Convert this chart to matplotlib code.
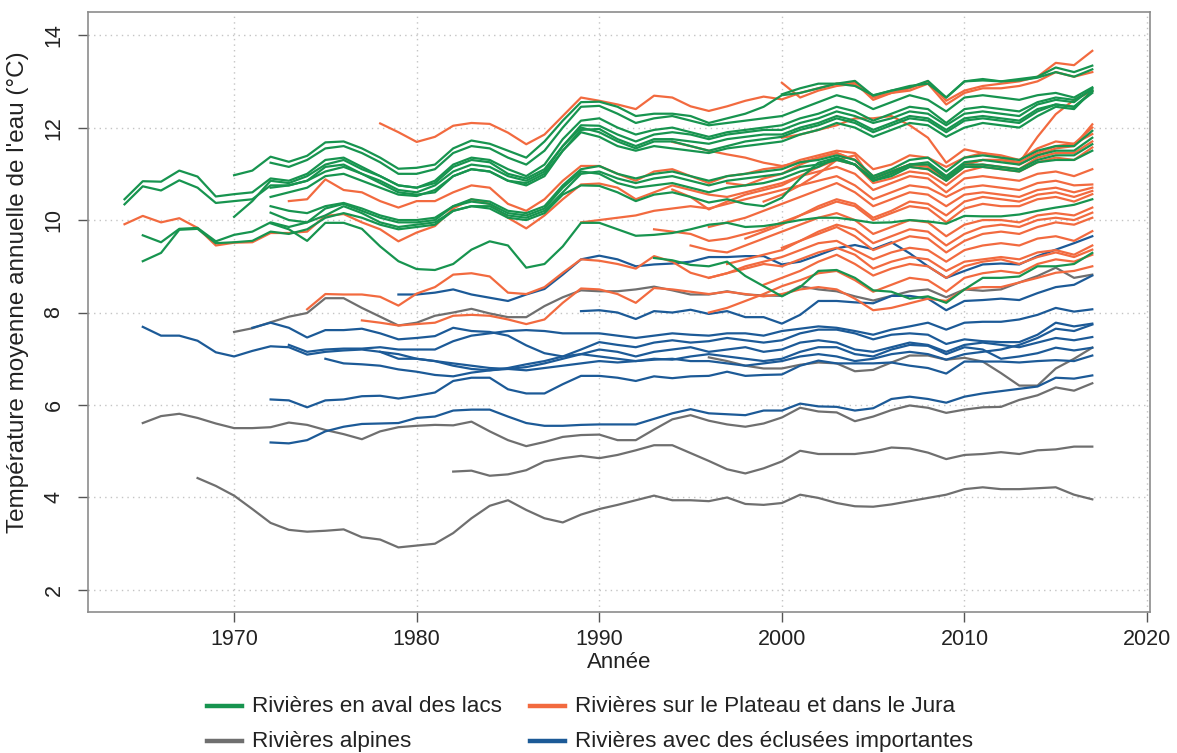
import matplotlib
matplotlib.use("Agg")
import matplotlib.pyplot as plt
from matplotlib.lines import Line2D

# ---------------- data: (start year, yearly values) ----------------
# Rivières en aval des lacs (green)
green_g1 = (1964, [10.45, 10.84, 10.83, 11.07, 10.94, 10.51, 10.56, 10.60, 10.90, 10.85,
                   11.00, 11.30, 11.35, 11.15, 10.95, 10.75, 10.70, 10.80, 11.15, 11.30,
                   11.25, 11.00, 10.90, 11.10, 11.60, 12.05, 12.04, 11.85, 11.70, 11.85,
                   11.90, 11.85, 11.75, 11.85, 11.90, 11.95, 11.95, 12.10, 12.20, 12.35,
                   12.25, 12.10, 12.20, 12.35, 12.30, 12.05, 12.30, 12.35, 12.30, 12.25,
                   12.50, 12.60, 12.55, 12.85])
green_g2 = (1964, [10.34, 10.73, 10.64, 10.86, 10.70, 10.37, 10.41, 10.45, 10.75, 10.75,
                   10.85, 11.15, 11.20, 11.00, 10.80, 10.60, 10.55, 10.60, 10.95, 11.10,
                   11.05, 10.85, 10.75, 10.95, 11.50, 11.95, 11.97, 11.75, 11.60, 11.75,
                   11.75, 11.70, 11.65, 11.75, 11.80, 11.85, 11.85, 12.00, 12.10, 12.25,
                   12.15, 11.95, 12.10, 12.25, 12.20, 11.95, 12.20, 12.25, 12.20, 12.15,
                   12.40, 12.50, 12.45, 12.75])
green_g3 = (1970, [10.97, 11.07, 11.37, 11.26, 11.39, 11.68, 11.70, 11.55, 11.35, 11.11,
                   11.13, 11.20, 11.55, 11.72, 11.65, 11.50, 11.35, 11.70, 12.15, 12.55,
                   12.56, 12.45, 12.25, 12.30, 12.30, 12.25, 12.10, 12.20, 12.30, 12.45,
                   12.70, 12.75, 12.85, 12.95, 12.90, 12.70, 12.80, 12.90, 12.95, 12.65,
                   13.00, 13.05, 13.00, 13.05, 13.10, 13.30, 13.20, 13.34])
green_g4 = (1972, [11.24, 11.15, 11.30, 11.55, 11.60, 11.45, 11.25, 11.00, 11.00, 11.10,
                   11.45, 11.60, 11.55, 11.35, 11.20, 11.50, 12.00, 12.45, 12.47, 12.30,
                   12.10, 12.20, 12.25, 12.15, 12.05, 12.10, 12.15, 12.20, 12.25, 12.40,
                   12.55, 12.70, 12.60, 12.40, 12.55, 12.70, 12.60, 12.35, 12.65, 12.70,
                   12.65, 12.60, 12.70, 12.75, 12.65, 12.87])
green_g5 = (1970, [10.07, 10.41, 10.85, 10.80, 10.95, 11.20, 11.30, 11.10, 10.95, 10.75,
                   10.70, 10.85, 11.20, 11.35, 11.30, 11.10, 10.95, 11.20, 11.75, 12.15,
                   12.20, 12.00, 11.85, 11.95, 12.00, 11.90, 11.80, 11.90, 11.95, 12.00,
                   12.05, 12.20, 12.30, 12.45, 12.35, 12.15, 12.30, 12.45, 12.40, 12.10,
                   12.40, 12.45, 12.40, 12.35, 12.55, 12.65, 12.60, 12.82])
green_g6 = (1972, [10.70, 10.75, 10.85, 11.05, 11.15, 11.00, 10.85, 10.65, 10.60, 10.75,
                   11.05, 11.20, 11.15, 10.95, 10.85, 11.05, 11.60, 12.00, 11.90, 11.70,
                   11.55, 11.70, 11.70, 11.60, 11.50, 11.60, 11.70, 11.75, 11.80, 11.95,
                   12.05, 12.20, 12.10, 11.90, 12.05, 12.20, 12.15, 11.90, 12.15, 12.20,
                   12.15, 12.10, 12.35, 12.50, 12.45, 12.78])
green_g7 = (1972, [10.50, 10.60, 10.70, 10.95, 11.00, 10.85, 10.70, 10.55, 10.52, 10.65,
                   10.95, 11.10, 11.05, 10.85, 10.80, 11.00, 11.50, 11.90, 11.80, 11.60,
                   11.50, 11.60, 11.55, 11.50, 11.45, 11.55, 11.60, 11.65, 11.70, 11.85,
                   11.95, 12.10, 12.00, 11.80, 11.95, 12.10, 12.05, 11.80, 12.00, 12.10,
                   12.05, 12.00, 12.25, 12.45, 12.40, 12.80])
green_g8 = (2000, [12.72, 12.85, 12.95, 12.95, 13.01, 12.69, 12.80, 12.87, 13.01, 12.65,
                   13.00, 13.02, 13.00, 13.02, 13.08, 13.20, 13.10, 13.26])
green_m1 = (1965, [9.67, 9.52, 9.81, 9.83, 9.54, 9.68, 9.75, 9.95, 9.85, 9.95,
                   10.25, 10.35, 10.20, 10.05, 9.95, 9.95, 10.00, 10.30, 10.45, 10.40,
                   10.20, 10.15, 10.30, 10.75, 11.10, 11.17, 11.00, 10.90, 11.00, 11.05,
                   10.95, 10.85, 10.95, 11.00, 11.05, 11.10, 11.25, 11.30, 11.40, 11.30,
                   10.95, 11.10, 11.30, 11.35, 11.05, 11.35, 11.40, 11.35, 11.30, 11.50,
                   11.60, 11.60, 11.93])
green_m2 = (1965, [9.11, 9.29, 9.79, 9.81, 9.50, 9.52, 9.55, 9.75, 9.70, 9.80,
                   10.05, 10.15, 10.05, 9.90, 9.80, 9.85, 9.90, 10.20, 10.30, 10.30,
                   10.10, 10.05, 10.20, 10.60, 11.00, 11.05, 10.90, 10.80, 10.90, 10.95,
                   10.85, 10.75, 10.85, 10.90, 10.95, 11.00, 11.15, 11.20, 11.30, 11.20,
                   10.90, 11.05, 11.20, 11.25, 10.95, 11.25, 11.30, 11.25, 11.20, 11.40,
                   11.50, 11.50, 11.78])
green_m3 = (1972, [10.30, 10.20, 10.15, 10.30, 10.37, 10.25, 10.10, 10.00, 10.00, 10.05,
                   10.30, 10.40, 10.35, 10.15, 10.10, 10.25, 10.70, 11.05, 11.00, 10.80,
                   10.70, 10.75, 10.80, 10.70, 10.60, 10.70, 10.75, 10.80, 10.90, 11.05,
                   11.15, 11.35, 11.20, 10.85, 11.00, 11.20, 11.20, 10.90, 11.20, 11.20,
                   11.15, 11.10, 11.30, 11.40, 11.40, 11.64])
green_m4 = (1972, [10.16, 10.00, 9.95, 10.10, 10.30, 10.15, 9.95, 9.85, 9.90, 9.95,
                   10.20, 10.30, 10.25, 10.05, 10.00, 10.15, 10.55, 10.75, 10.74, 10.60,
                   10.41, 10.55, 10.60, 10.50, 10.38, 10.45, 10.35, 10.30, 10.48, 10.90,
                   11.24, 11.35, 11.20, 10.85, 10.95, 11.15, 11.10, 10.85, 11.15, 11.15,
                   11.10, 11.05, 11.25, 11.30, 11.30, 11.50])
green_l1 = (1972, [9.93, 9.80, 9.55, 9.94, 9.94, 9.81, 9.43, 9.11, 8.94, 8.92,
                   9.05, 9.36, 9.54, 9.45, 8.97, 9.05, 9.43, 9.94, 9.94, 9.80,
                   9.66, 9.68, 9.72, 9.80, 9.90, 9.94, 9.85, 9.87, 9.93, 10.00,
                   10.05, 10.05, 10.00, 9.94, 9.95, 10.00, 9.97, 9.92, 10.09, 10.08,
                   10.08, 10.12, 10.20, 10.27, 10.33, 10.45])
green_l2 = (1993, [9.18, 9.13, 9.03, 9.00, 9.10, 8.79, 8.57, 8.35, 8.55, 8.90,
                   8.92, 8.75, 8.48, 8.45, 8.30, 8.35, 8.21, 8.50, 8.75, 8.75,
                   8.78, 9.00, 9.00, 9.05, 9.29])

# Rivières sur le Plateau et dans le Jura (orange)
orange_o1 = (1964, [9.91, 10.09, 9.95, 10.04, 9.83, 9.45, 9.51, 9.52, 9.72, 9.72,
                    9.75, 10.09, 10.13, 9.95, 9.80, 9.54, 9.73, 9.87, 10.25, 10.45,
                    10.35, 10.05, 9.82, 10.10, 10.45, 10.77, 10.79, 10.70, 10.45, 10.60,
                    10.75, 10.65, 10.55, 10.50, 10.60, 10.70, 10.80, 10.95, 11.05, 11.15,
                    11.00, 10.65, 10.80, 10.95, 10.90, 10.60, 10.90, 10.95, 10.90, 10.85,
                    11.00, 11.05, 10.95, 11.10])
orange_o2 = (1973, [10.41, 10.45, 10.88, 10.65, 10.60, 10.41, 10.27, 10.41, 10.41, 10.60,
                    10.75, 10.70, 10.35, 10.20, 10.45, 10.85, 11.17, 11.17, 11.00, 10.85,
                    11.05, 11.10, 10.95, 10.80, 10.95, 11.00, 11.10, 11.15, 11.30, 11.40,
                    11.50, 11.45, 11.10, 11.20, 11.40, 11.35, 11.15, 11.35, 11.45, 11.40,
                    11.30, 11.55, 11.70, 11.65, 11.86])
orange_o3 = (1978, [12.09, 11.90, 11.69, 11.80, 12.04, 12.10, 12.08, 11.89, 11.64, 11.85,
                    12.25, 12.65, 12.58, 12.50, 12.40, 12.69, 12.65, 12.46, 12.36, 12.46,
                    12.58, 12.67, 12.61, 12.75, 12.85, 12.95, 12.97, 12.60, 12.75, 12.85,
                    13.00, 12.58, 12.80, 12.90, 12.95, 13.00, 13.10, 13.40, 13.35, 13.66])
orange_o4 = (2000, [12.97, 12.65, 12.80, 12.90, 12.95, 12.65, 12.75, 12.80, 12.95, 12.50,
                    12.75, 12.85, 12.85, 12.90, 13.00, 13.20, 13.10, 13.20])
orange_o5 = (2000, [11.78, 11.85, 11.95, 12.05, 12.20, 12.20, 12.25, 12.05, 11.78, 11.24,
                    11.53, 11.45, 11.35, 11.24, 11.80, 12.29, 12.60, 12.79])
orange_o6 = (1994, [11.69, 11.60, 11.50, 11.42, 11.35, 11.24, 11.17, 11.25, 11.35, 11.45,
                    11.30, 10.95, 11.05, 11.20, 11.15, 10.90, 11.20, 11.30, 11.30, 11.20,
                    11.40, 11.55, 11.60, 12.07])
orange_o7 = (1997, [10.80, 10.75, 10.90, 11.00, 11.20, 11.35, 11.45, 11.30, 10.90, 11.05,
                    11.20, 11.20, 10.95, 11.20, 11.30, 11.30, 11.25, 11.45, 11.60, 11.65,
                    12.00])
orange_o8 = (1999, [10.40, 10.55, 10.75, 11.00, 11.30, 11.40, 10.85, 11.00, 11.15, 11.10,
                    10.85, 11.15, 11.20, 11.15, 11.10, 11.35, 11.45, 11.45, 11.70])
orange_o9 = (1994, [10.66, 10.50, 10.23, 10.40, 10.55, 10.65, 10.75, 10.95, 11.15, 11.30,
                    11.20, 10.80, 10.90, 11.05, 11.00, 10.75, 11.05, 11.15, 11.10, 11.05,
                    11.25, 11.35, 11.30, 11.57])
orange_o10 = (1989, [9.95, 10.00, 10.05, 10.10, 10.20, 10.25, 10.30, 10.25, 10.35, 10.45,
                     10.55, 10.65, 10.75, 10.85, 10.95, 10.75, 10.45, 10.60, 10.75, 10.70,
                     10.50, 10.70, 10.75, 10.70, 10.65, 10.80, 10.85, 10.75, 10.77])
orange_o11 = (1996, [9.85, 9.95, 10.05, 10.20, 10.35, 10.50, 10.65, 10.80, 10.60, 10.30,
                     10.45, 10.60, 10.55, 10.30, 10.55, 10.60, 10.55, 10.50, 10.65, 10.70,
                     10.60, 10.70])
orange_o12 = (1998, [9.60, 9.75, 9.90, 10.10, 10.30, 10.45, 10.35, 10.05, 10.20, 10.40,
                     10.35, 10.10, 10.40, 10.50, 10.45, 10.40, 10.55, 10.60, 10.50, 10.63])
orange_o13 = (1993, [9.80, 9.75, 9.70, 9.55, 9.60, 9.70, 9.80, 9.95, 10.10, 10.25,
                     10.40, 10.30, 10.00, 10.15, 10.30, 10.25, 9.95, 10.25, 10.35, 10.30,
                     10.30, 10.45, 10.50, 10.40, 10.56])
orange_o14 = (1995, [9.45, 9.35, 9.30, 9.45, 9.60, 9.75, 9.90, 10.05, 10.15, 10.00,
                     9.70, 9.85, 10.00, 9.95, 9.65, 9.90, 10.00, 10.00, 9.95, 10.10,
                     10.15, 10.10, 10.27])
orange_o15 = (2000, [9.40, 9.55, 9.75, 9.90, 9.80, 9.50, 9.65, 9.80, 9.75, 9.45,
                     9.70, 9.85, 9.90, 9.85, 10.00, 10.05, 10.00, 10.16])
orange_o16 = (1997, [9.05, 9.15, 9.25, 9.35, 9.55, 9.70, 9.85, 9.65, 9.35, 9.50,
                     9.65, 9.60, 9.30, 9.55, 9.70, 9.75, 9.70, 9.85, 9.95, 9.90,
                     10.05])
orange_o17 = (1996, [8.75, 8.85, 9.00, 9.10, 9.20, 9.35, 9.50, 9.55, 9.35, 9.15,
                     9.30, 9.40, 9.35, 9.10, 9.35, 9.45, 9.50, 9.45, 9.60, 9.65,
                     9.55, 9.76])
orange_o18 = (1999, [8.60, 8.75, 8.90, 9.10, 9.25, 9.05, 8.80, 8.95, 9.05, 9.00,
                     8.75, 9.00, 9.10, 9.15, 9.05, 9.20, 9.30, 9.20, 9.36])
orange_o19 = (1977, [7.83, 7.78, 7.72, 7.75, 7.78, 7.93, 7.95, 7.93, 7.85, 7.75,
                     7.85, 8.21, 8.52, 8.50, 8.40, 8.21, 8.53, 8.50, 8.45, 8.40,
                     8.45, 8.40, 8.35, 8.40, 8.50, 8.55, 8.50, 8.30, 8.05, 8.10,
                     8.20, 8.30, 8.25, 8.50, 8.55, 8.55, 8.65, 8.75, 8.86, 8.90,
                     9.00])
orange_o20 = (1974, [8.07, 8.40, 8.39, 8.39, 8.34, 8.15, 8.41, 8.55, 8.82, 8.85,
                     8.78, 8.43, 8.40, 8.55, 8.86, 9.15, 9.12, 9.05, 8.95, 9.22,
                     9.10, 8.86, 8.75, 8.85, 8.95, 9.05, 9.00, 9.15, 9.30, 9.40,
                     9.25, 8.95, 9.10, 9.20, 9.15, 8.90, 9.10, 9.15, 9.20, 9.15,
                     9.30, 9.35, 9.25, 9.45])
orange_o21 = (1996, [8.00, 8.10, 8.25, 8.40, 8.57, 8.70, 8.85, 8.90, 8.70, 8.45,
                     8.60, 8.75, 8.70, 8.45, 8.75, 8.85, 8.90, 8.85, 9.05, 9.15,
                     9.10, 9.25])

# Rivières alpines (gray)
gray_a1 = (1968, [4.42, 4.25, 4.04, 3.75, 3.45, 3.30, 3.26, 3.28, 3.31, 3.14,
                  3.09, 2.92, 2.96, 3.00, 3.23, 3.55, 3.82, 3.94, 3.73, 3.55,
                  3.46, 3.63, 3.75, 3.84, 3.94, 4.04, 3.94, 3.94, 3.92, 4.00,
                  3.86, 3.84, 3.88, 4.06, 3.99, 3.88, 3.81, 3.80, 3.85, 3.92,
                  3.99, 4.06, 4.18, 4.22, 4.18, 4.18, 4.20, 4.22, 4.06, 3.96])
gray_a2 = (1982, [4.56, 4.58, 4.47, 4.50, 4.59, 4.78, 4.85, 4.90, 4.85, 4.92,
                  5.02, 5.13, 5.13, 4.96, 4.79, 4.61, 4.52, 4.63, 4.78, 5.01,
                  4.94, 4.94, 4.94, 4.99, 5.08, 5.06, 4.97, 4.83, 4.92, 4.94,
                  4.98, 4.94, 5.02, 5.04, 5.10, 5.10])
gray_a3 = (1965, [5.61, 5.76, 5.81, 5.72, 5.60, 5.50, 5.50, 5.52, 5.62, 5.57,
                  5.46, 5.37, 5.26, 5.43, 5.52, 5.55, 5.57, 5.56, 5.64, 5.43,
                  5.24, 5.11, 5.20, 5.31, 5.35, 5.36, 5.24, 5.24, 5.47, 5.69,
                  5.78, 5.66, 5.58, 5.53, 5.60, 5.73, 5.94, 5.86, 5.84, 5.65,
                  5.75, 5.89, 5.99, 5.94, 5.83, 5.90, 5.95, 5.96, 6.11, 6.21,
                  6.38, 6.31, 6.47])
gray_a4 = (1970, [7.58, 7.66, 7.79, 7.91, 7.99, 8.31, 8.31, 8.10, 7.91, 7.72,
                  7.78, 7.93, 8.00, 8.08, 7.98, 7.90, 7.90, 8.14, 8.33, 8.48,
                  8.46, 8.46, 8.50, 8.56, 8.48, 8.39, 8.39, 8.46, 8.39, 8.37,
                  8.36, 8.57, 8.50, 8.46, 8.35, 8.26, 8.36, 8.46, 8.50, 8.33,
                  8.50, 8.47, 8.50, 8.65, 8.79, 8.97, 8.75, 8.82])
gray_a5 = (1996, [7.03, 6.95, 6.85, 6.79, 6.79, 6.87, 6.92, 6.90, 6.73, 6.76,
                  6.92, 7.07, 7.07, 6.98, 7.02, 6.94, 6.69, 6.42, 6.42, 6.79,
                  7.00, 7.24])

# Rivières avec des éclusées importantes (blue)
blue_b1 = (1965, [7.69, 7.50, 7.50, 7.39, 7.14, 7.05, 7.17, 7.27, 7.25, 7.09,
                  7.15, 7.18, 7.20, 7.15, 7.10, 7.00, 6.95, 6.85, 6.78, 6.75,
                  6.78, 6.82, 6.90, 7.00, 7.10, 7.20, 7.15, 7.05, 7.15, 7.20,
                  7.25, 7.15, 7.20, 7.25, 7.15, 7.20, 7.35, 7.40, 7.35, 7.20,
                  7.15, 7.25, 7.35, 7.30, 7.15, 7.30, 7.35, 7.30, 7.25, 7.35,
                  7.45, 7.40, 7.47])
blue_b2 = (1971, [7.67, 7.78, 7.67, 7.46, 7.62, 7.62, 7.65, 7.55, 7.42, 7.45,
                  7.49, 7.67, 7.60, 7.58, 7.50, 7.29, 7.12, 7.05, 7.10, 7.05,
                  7.00, 6.95, 6.98, 7.00, 6.95, 6.95, 6.90, 6.85, 6.90, 6.95,
                  7.05, 7.10, 7.05, 6.95, 7.00, 7.10, 7.15, 7.10, 6.98, 7.10,
                  7.15, 7.20, 7.30, 7.45, 7.65, 7.60, 7.74])
blue_b3 = (1972, [6.12, 6.10, 5.95, 6.10, 6.12, 6.19, 6.20, 6.14, 6.20, 6.27,
                  6.52, 6.59, 6.59, 6.34, 6.25, 6.25, 6.45, 6.63, 6.63, 6.59,
                  6.52, 6.62, 6.58, 6.62, 6.63, 6.72, 6.63, 6.65, 6.66, 6.85,
                  6.96, 6.90, 6.90, 6.90, 6.92, 6.85, 6.80, 6.68, 6.94, 6.94,
                  6.94, 6.92, 6.95, 6.97, 6.95, 7.07])
blue_b4 = (1972, [5.19, 5.17, 5.24, 5.43, 5.53, 5.59, 5.60, 5.61, 5.72, 5.75,
                  5.88, 5.90, 5.90, 5.75, 5.61, 5.55, 5.55, 5.57, 5.58, 5.58,
                  5.58, 5.70, 5.82, 5.91, 5.82, 5.80, 5.78, 5.88, 5.88, 6.03,
                  5.97, 5.96, 5.88, 5.93, 6.13, 6.18, 6.13, 6.05, 6.18, 6.25,
                  6.30, 6.35, 6.40, 6.59, 6.57, 6.64])
blue_b5 = (1978, [7.15, 7.00, 7.00, 6.95, 6.90, 6.85, 6.80, 6.78, 6.75, 6.80,
                  6.85, 6.90, 6.95, 6.92, 6.95, 7.00, 6.98, 7.05, 7.10, 7.05,
                  7.00, 6.95, 7.00, 7.15, 7.25, 7.25, 7.10, 7.05, 7.20, 7.30,
                  7.28, 7.10, 7.25, 7.20, 7.00, 7.05, 7.12, 7.24, 7.18, 7.24])
blue_b6 = (1973, [7.30, 7.15, 7.20, 7.22, 7.22, 7.25, 7.20, 7.20, 7.20, 7.38,
                  7.50, 7.55, 7.60, 7.62, 7.60, 7.55, 7.55, 7.55, 7.50, 7.45,
                  7.50, 7.55, 7.52, 7.50, 7.55, 7.55, 7.50, 7.60, 7.65, 7.70,
                  7.67, 7.60, 7.52, 7.63, 7.70, 7.78, 7.63, 7.78, 7.80, 7.80,
                  7.85, 7.95, 8.10, 8.02, 8.07])
blue_b7 = (1975, [7.00, 6.90, 6.88, 6.85, 6.77, 6.72, 6.65, 6.62, 6.70, 6.75,
                  6.80, 6.88, 6.95, 7.05, 7.20, 7.36, 7.30, 7.25, 7.35, 7.40,
                  7.35, 7.38, 7.45, 7.40, 7.35, 7.40, 7.55, 7.63, 7.63, 7.55,
                  7.42, 7.52, 7.55, 7.52, 7.32, 7.42, 7.38, 7.36, 7.36, 7.52,
                  7.78, 7.70, 7.76])
blue_top = (1979, [8.39, 8.39, 8.43, 8.50, 8.39, 8.32, 8.25, 8.39, 8.51, 8.82,
                   9.15, 9.23, 9.15, 9.00, 9.04, 9.06, 9.10, 9.20, 9.20, 9.22,
                   9.22, 9.04, 9.10, 9.24, 9.39, 9.46, 9.37, 9.52, 9.28, 9.00,
                   8.75, 8.90, 9.04, 9.06, 9.04, 9.22, 9.36, 9.50, 9.65])
blue_mid = (1989, [8.03, 8.05, 8.00, 7.86, 8.03, 8.00, 8.06, 7.97, 8.03, 7.90,
                   7.90, 7.76, 7.95, 8.25, 8.25, 8.22, 8.20, 8.36, 8.36, 8.30,
                   8.05, 8.25, 8.27, 8.30, 8.27, 8.42, 8.55, 8.60, 8.80])

green_series = [green_g1, green_g2, green_g3, green_g4, green_g5, green_g6, green_g7,
                green_g8, green_m1, green_m2, green_m3, green_m4, green_l1, green_l2]
orange_series = [orange_o1, orange_o2, orange_o3, orange_o4, orange_o5, orange_o6,
                 orange_o7, orange_o8, orange_o9, orange_o10, orange_o11, orange_o12,
                 orange_o13, orange_o14, orange_o15, orange_o16, orange_o17, orange_o18,
                 orange_o19, orange_o20, orange_o21]
gray_series = [gray_a1, gray_a2, gray_a3, gray_a4, gray_a5]
blue_series = [blue_b1, blue_b2, blue_b3, blue_b4, blue_b5, blue_b6, blue_b7,
               blue_top, blue_mid]

legend_labels = ["Rivières en aval des lacs", "Rivières sur le Plateau et dans le Jura",
                 "Rivières alpines", "Rivières avec des éclusées importantes"]
x_ticks = [1970, 1980, 1990, 2000, 2010, 2020]
y_ticks = [2, 4, 6, 8, 10, 12, 14]

# ---------------- style ----------------
C_GREEN = "#17944f"
C_ORANGE = "#f26a3f"
C_GRAY = "#6f6f6f"
C_BLUE = "#1c5a97"

plt.rcParams["font.family"] = ["Liberation Sans", "DejaVu Sans"]
FS_TICK = 15.5
FS_LEG = 16.2
FS_XLAB = 16
FS_YLAB = 17.5
TXT = "#222222"

W, H = 1177, 753
fig = plt.figure(figsize=(W / 100, H / 100), dpi=100)
ax_l, ax_r, ax_t, ax_b = 88, 1150, 12, 612
ax = fig.add_axes([ax_l / W, 1 - ax_b / H, (ax_r - ax_l) / W, (ax_b - ax_t) / H])

ax.set_xlim(1962.0, 2020.16)
ax.set_ylim(1.523, 14.5)

def draw(series, color):
    for start, vals in series:
        years = list(range(start, start + len(vals)))
        ax.plot(years, vals, color=color, lw=1.6, solid_joinstyle="round", zorder=3)

draw(gray_series, C_GRAY)
draw(blue_series, C_BLUE)
draw(orange_series, C_ORANGE)
draw(green_series, C_GREEN)

ax.set_xticks(x_ticks)
ax.set_yticks(y_ticks)
ax.set_xticklabels([str(t) for t in x_ticks], fontsize=FS_TICK)
ax.set_yticklabels([str(t) for t in y_ticks], fontsize=FS_TICK, rotation=90, va="center")
ax.grid(True, color="#c4c4c4", linestyle=(0, (1, 3)), linewidth=1.0, zorder=0)
ax.tick_params(axis="both", direction="out", length=7, width=1, color="#555555",
               labelcolor=TXT)
ax.tick_params(axis="x", pad=5)
ax.tick_params(axis="y", pad=10)
for s in ax.spines.values():
    s.set_color("#8c8c8c")
    s.set_linewidth(1.2)

fig.text(619 / W, 1 - 662 / H, "Année", ha="center", va="center", fontsize=FS_XLAB, color=TXT)
fig.text(18 / W, 1 - 292 / H, "Température moyenne annuelle de l'eau (°C)", rotation=90,
         ha="center", va="center", fontsize=FS_YLAB, color=TXT)

# legend (2 x 2)
leg_items = [(207, 706, C_GREEN, legend_labels[0]), (530, 706, C_ORANGE, legend_labels[1]),
             (207, 741, C_GRAY, legend_labels[2]), (530, 741, C_BLUE, legend_labels[3])]
for x0, y0, c, lab in leg_items:
    fig.add_artist(Line2D([x0 / W, (x0 + 35) / W], [1 - y0 / H, 1 - y0 / H],
                          color=c, lw=3.2, transform=fig.transFigure))
    fig.text((x0 + 45) / W, 1 - y0 / H, lab, ha="left", va="center", fontsize=FS_LEG,
             color=TXT)

fig.savefig("out.png", dpi=100)
